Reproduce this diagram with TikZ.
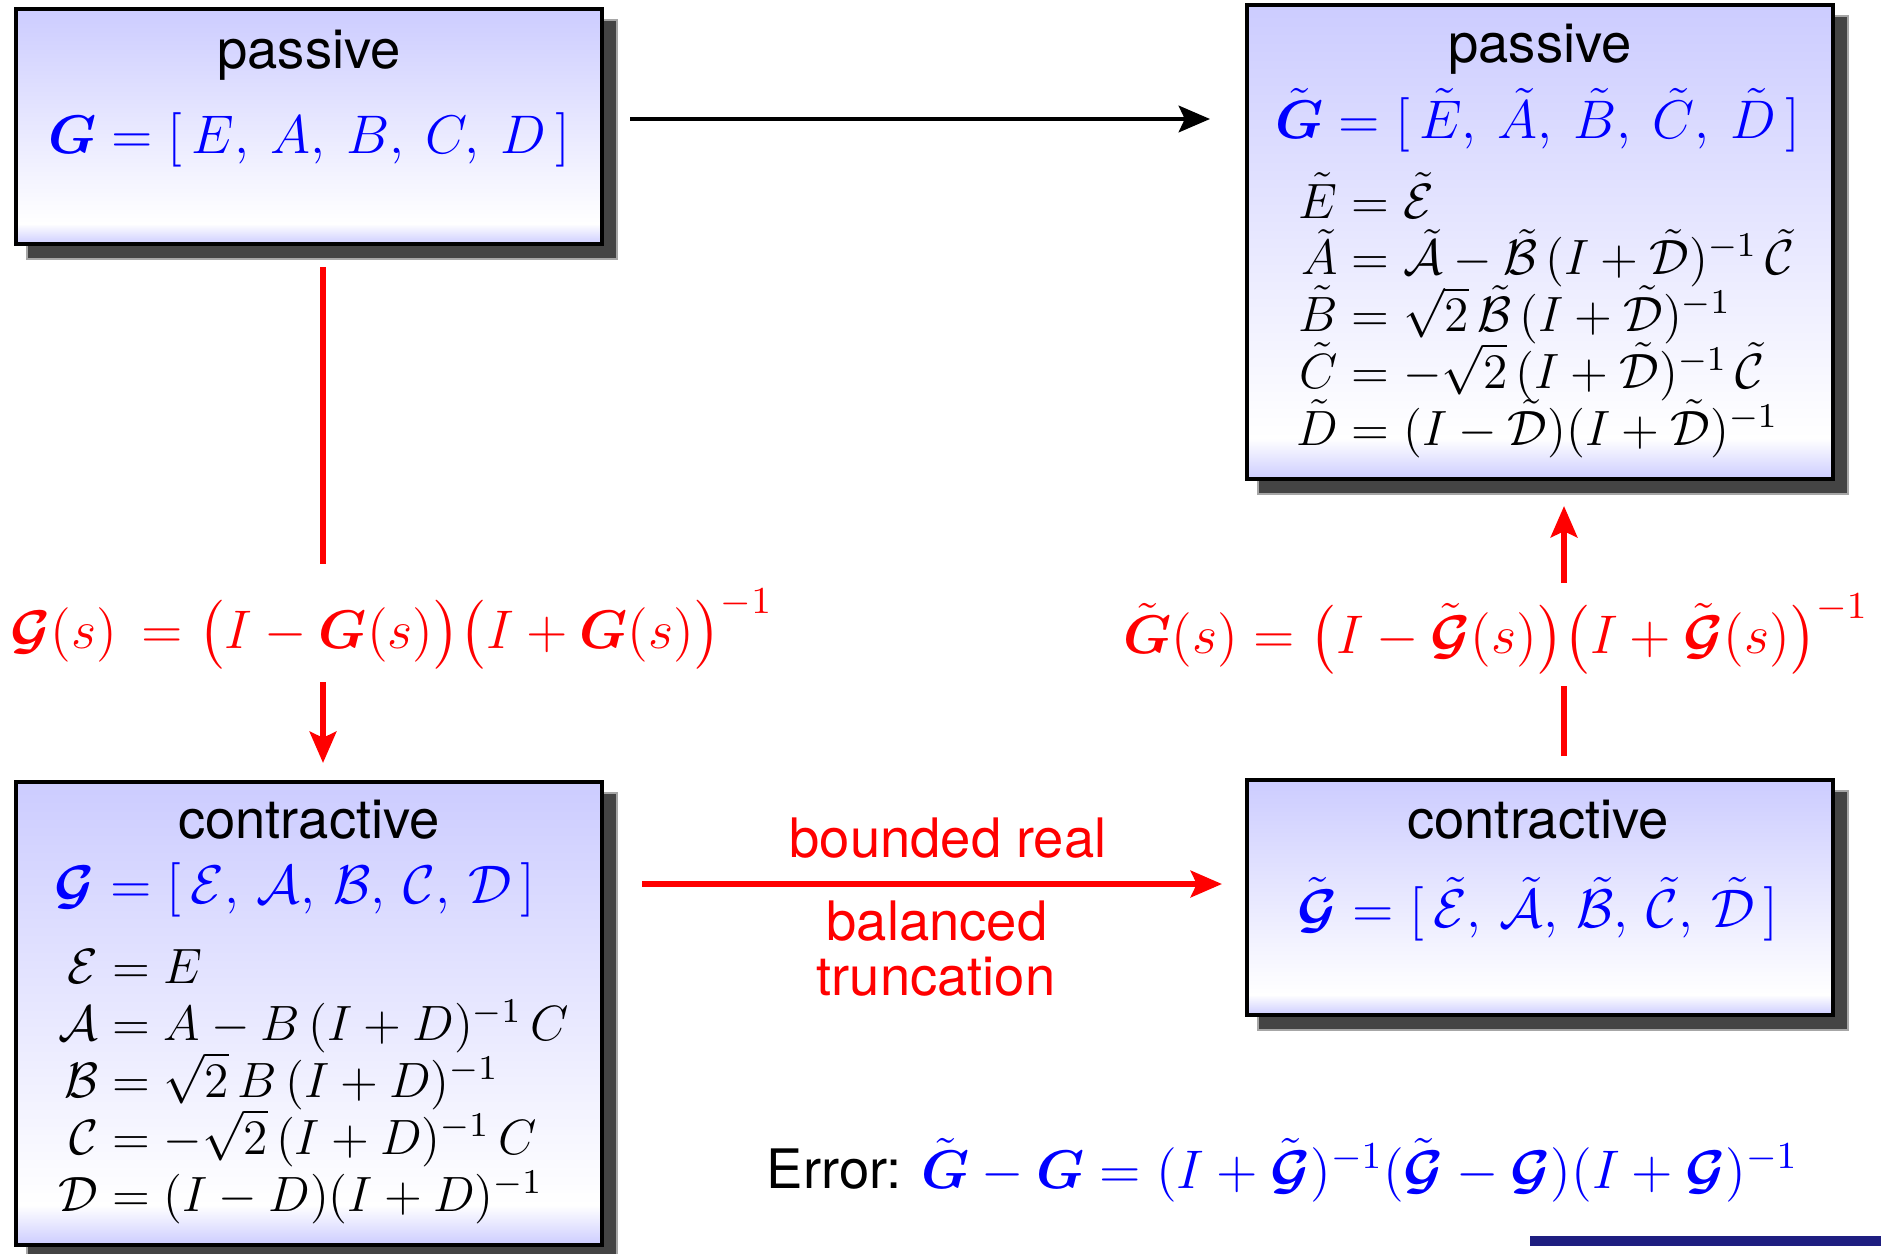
\RequirePackage{fix-cm}
\documentclass[tikz,border=0pt]{standalone}
\usepackage{amsmath}
\usepackage[no-math]{fontspec}
\newfontfamily\hv{TeX Gyre Heros}
\usetikzlibrary{arrows.meta}
\definecolor{lav}{RGB}{204,204,255}
\definecolor{shadowc}{RGB}{68,68,68}
\definecolor{navy}{RGB}{30,30,128}
\pgfdeclareverticalshading{boxshade}{100bp}{color(0bp)=(lav); color(25bp)=(lav); color(29.3bp)=(white); color(75bp)=(lav); color(100bp)=(lav)}
\pgfdeclarelayer{bg}
\pgfsetlayers{bg,main}
\newcommand\eqline[2]{\makebox[11pt][r]{$#1$}${}=#2$}
\begin{document}
\begin{tikzpicture}[x=0.25pt,y=-0.25pt,
  every node/.style={inner sep=0pt, font=\fontsize{13.6}{16.3}\selectfont},
  box/.style={draw=black, line width=1pt, shade, shading=boxshade, minimum width=146.5pt},
  shadowbox/.style={fill=shadowc, draw=black!35, line width=0.4pt},
  rline/.style={draw=red, line width=1.5pt},
  bline/.style={draw=black, line width=1.2pt},
  tip/.style={-{Stealth[length=7.8pt,width=6.6pt,inset=1.5pt]}},
  eqn/.style={anchor=base west, font=\fontsize{12.4}{14.8}\selectfont}
]
\useasboundingbox (0,0) rectangle (1881,1253);

% boxes
\node[box, minimum height=58.75pt]  (TL) at (309,126.5) {};
\node[box, minimum height=118.5pt]  (TR) at (1540,242) {};
\node[box, minimum height=115.75pt] (BL) at (309,1013.5) {};
\node[box, minimum height=58.75pt]  (BR) at (1540,897.5) {};

\begin{pgfonlayer}{bg}
\foreach \n in {TL,TR,BL,BR}{
  \draw[shadowbox] ([shift={(13,13)}]\n.north west) rectangle ([shift={(13,13)}]\n.south east);
}
\end{pgfonlayer}

% top-left box
\node[anchor=base] (TLt) at (309,68) {\hv passive};
\node[anchor=base, text=blue] (TLf) at (309,153)
  {$\boldsymbol G = [\,E,\: A,\: B,\: C,\: D\,]$};

% top-right box
\node[anchor=base] (TRt) at (1540,62) {\hv passive};
\node[anchor=base, text=blue] (TRf) at (1538,138)
  {$\tilde{\boldsymbol G} = [\,\tilde E,\: \tilde A,\: \tilde B,\: \tilde C,\: \tilde D\,]$};
\node[eqn] (TR1) at (1293,218)    {\eqline{\tilde E}{\tilde{\mathcal E}}};
\node[eqn] (TR2) at (1293,274.75) {\eqline{\tilde A}{\tilde{\mathcal A} - \tilde{\mathcal B}\,(I + \tilde{\mathcal D})^{-1}\,\tilde{\mathcal C}}};
\node[eqn] (TR3) at (1293,331.5)  {\eqline{\tilde B}{\sqrt{2}\,\tilde{\mathcal B}\,(I+\tilde{\mathcal D})^{-1}}};
\node[eqn] (TR4) at (1293,388.25) {\eqline{\tilde C}{-\sqrt{2}\,(I+\tilde{\mathcal D})^{-1}\,\tilde{\mathcal C}}};
\node[eqn] (TR5) at (1293,445)    {\eqline{\tilde D}{(I-\tilde{\mathcal D})(I+\tilde{\mathcal D})^{-1}}};

% bottom-left box
\node[anchor=base] (BLt) at (309,838) {\hv contractive};
\node[anchor=base west, text=blue] (BLf) at (54,903)
  {$\boldsymbol{\mathcal G} = [\,\mathcal E,\, \mathcal A,\, \mathcal B,\, \mathcal C,\, \mathcal D\,]$};
\node[eqn] (BL1) at (53.5,983)  {\eqline{\mathcal E}{E}};
\node[eqn] (BL2) at (53.5,1040) {\eqline{\mathcal A}{A - B\,(I+D)^{-1}\,C}};
\node[eqn] (BL3) at (53.5,1097) {\eqline{\mathcal B}{\sqrt{2}\,B\,(I+D)^{-1}}};
\node[eqn] (BL4) at (53.5,1154) {\eqline{\mathcal C}{-\sqrt{2}\,(I+D)^{-1}\,C}};
\node[eqn] (BL5) at (53.5,1211) {\eqline{\mathcal D}{(I-D)(I+D)^{-1}}};

% bottom-right box
\node[anchor=base] (BRt) at (1538,838) {\hv contractive};
\node[anchor=base, text=blue] (BRf) at (1538,927)
  {$\tilde{\boldsymbol{\mathcal G}} = [\,\tilde{\mathcal E},\, \tilde{\mathcal A},\, \tilde{\mathcal B},\, \tilde{\mathcal C},\, \tilde{\mathcal D}\,]$};

% red formulas
\node[anchor=base west, text=red] (Lf) at (10,648)
  {$\boldsymbol{\mathcal G}(s)\, = \big(I - \boldsymbol G(s)\big)\big(I + \boldsymbol G(s)\big)^{-1}$};
\node[anchor=base, text=red] (Rf) at (1496,653)
  {$\tilde{\boldsymbol G}(s) = \big(I - \tilde{\boldsymbol{\mathcal G}}(s)\big)\big(I + \tilde{\boldsymbol{\mathcal G}}(s)\big)^{-1}$};

% middle labels
\node[anchor=base, text=red] (lab1) at (948,857) {\hv bounded real};
\node[anchor=base, text=red] (lab2) at (937,940) {\hv balanced};
\node[anchor=base, text=red] (lab3) at (936,995) {\hv truncation};

% error line
\node[anchor=base west] (err) at (766,1188)
  {\hv Error: \textcolor{blue}{$\tilde{\boldsymbol G}-\boldsymbol G = (I+\tilde{\boldsymbol{\mathcal G}})^{-1}(\tilde{\boldsymbol{\mathcal G}}-\boldsymbol{\mathcal G})(I+\boldsymbol{\mathcal G})^{-1}$}};

% connectors
\coordinate (l2) at (323,564);
\coordinate (l3) at (323,682);
\coordinate (r2) at (1564,686);
\coordinate (r3) at (1564,583);

\draw[bline, tip] ([shift={(26,-7.5)}]TL.east) -- ([shift={(-35,-123)}]TR.west);
\draw[rline] ([shift={(14,21)}]TL.south) -- (l2);
\draw[rline, tip] (l3) -- ([shift={(14,-17)}]BL.north);
\draw[rline] ([shift={(24,-22)}]BR.north) -- (r2);
\draw[rline, tip] (r3) -- ([shift={(24,25)}]TR.south);
\draw[rline, tip] ([shift={(38,-129.5)}]BL.east) -- ([shift={(-23,-13.5)}]BR.west);

% bottom bar
\fill[navy] (1530,1236) rectangle (1881,1246);
\end{tikzpicture}
\end{document}
